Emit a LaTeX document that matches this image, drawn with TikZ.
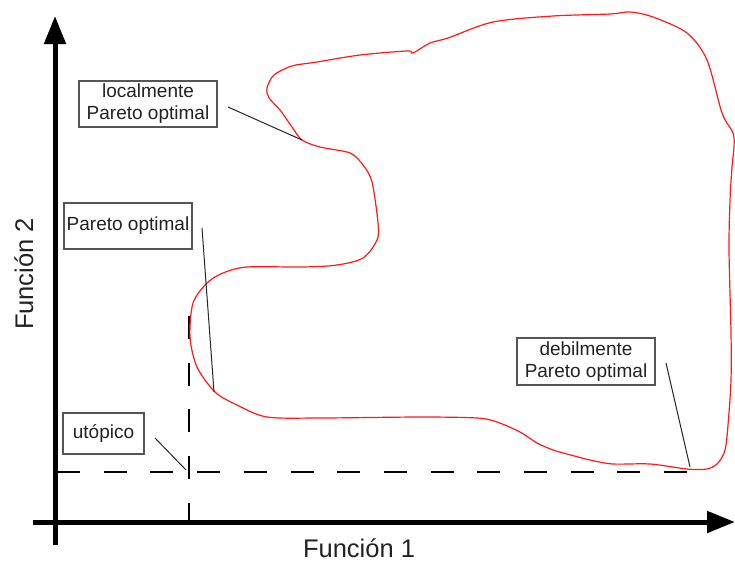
\documentclass[tikz,border=0pt]{standalone}
\usepackage{fontspec}
\setmainfont{Liberation Sans}
\usetikzlibrary{arrows.meta}
\definecolor{txt}{HTML}{222222}
\definecolor{boxc}{HTML}{555555}
\definecolor{curvec}{HTML}{FF1A1A}
\tikzset{
  axisline/.style={line width=5pt, -{Triangle[length=28pt,width=21pt]}},
  guide/.style={line width=1.2pt, dash pattern=on 23pt off 23.7pt},
  labelbox/.style={draw=boxc, line width=1.3pt, text=txt, inner sep=0pt, align=center,
    font=\fontsize{19}{22}\selectfont},
  pointer/.style={line width=1pt, draw=black!85},
  axislabel/.style={text=txt, font=\fontsize{25.5}{30}\selectfont, inner sep=0pt},
}
\begin{document}
\begin{tikzpicture}[x=1pt,y=-1pt]
\useasboundingbox (0,0) rectangle (735,565);
\fill[white] (0,0) rectangle (735,565);

% dashed guides
\coordinate (hg1) at (57,472);
\coordinate (hg2) at (688,472);
\coordinate (vg1) at (189,316);
\coordinate (vg2) at (189,521);
\draw[guide] (hg1) -- (hg2);
\draw[guide] (vg1) -- (vg2);

% axes
\coordinate (yb) at (55,545);
\coordinate (yt) at (55,16);
\coordinate (xl) at (33,522);
\coordinate (xr) at (735,522);
\draw[axisline] (yb) -- (yt);
\draw[axisline] (xl) -- (xr);

% curve
\draw[curvec, line width=1.2pt] plot[smooth cycle, tension=0.5] coordinates {
 (267,88) (274,75) (292,66) (317,62) (360,55) (407,51) (413,53) (430,43) (448,38)
 (493,22) (553,16) (610,14) (630,12) (653,17) (687,33) (707,60) (722,113) (733,133)
 (734,147) (732,167) (730,200) (729,250) (731,333) (731,380) (728,425) (725,450)
 (718,463) (707,469) (687,469) (650,464) (613,464) (590,460) (567,454) (553,450)
 (537,443) (520,432) (497,422) (477,418) (420,417) (320,418) (267,417) (237,405)
 (215,392) (197,367) (190,337) (193,303) (207,283) (223,273) (247,267) (303,267)
 (337,265) (363,258) (377,240) (378,223) (372,182) (363,165) (350,153) (320,147)
 (302,140) (292,127) (280,110) (269,98)
};

% labels
\node[labelbox, minimum width=138pt, minimum height=46pt] (loc) at (148,104) {localmente\\Pareto optimal};
\node[labelbox, minimum width=128pt, minimum height=46pt] (par) at (128,226) {Pareto optimal};
\node[labelbox, minimum width=81pt, minimum height=41pt] (uto) at (103.5,433.5) {utópico};
\node[labelbox, minimum width=138pt, minimum height=47pt] (deb) at (586,361.5) {debilmente\\Pareto optimal};

% pointers
\coordinate (locA) at (228,107);
\coordinate (locB) at (302,140);
\coordinate (parA) at (202,228);
\coordinate (parB) at (214,392);
\coordinate (utoA) at (155,438);
\coordinate (utoB) at (186,470);
\coordinate (debA) at (666,363);
\coordinate (debB) at (690,467);
\draw[pointer] (locA) -- (locB);
\draw[pointer] (parA) -- (parB);
\draw[pointer] (utoA) -- (utoB);
\draw[pointer] (debA) -- (debB);

% axis labels
\node[axislabel, anchor=base] (f1) at (359,557) {Función 1};
\node[axislabel, anchor=base, rotate=90] (f2) at (33,274) {Función 2};
\end{tikzpicture}
\end{document}
